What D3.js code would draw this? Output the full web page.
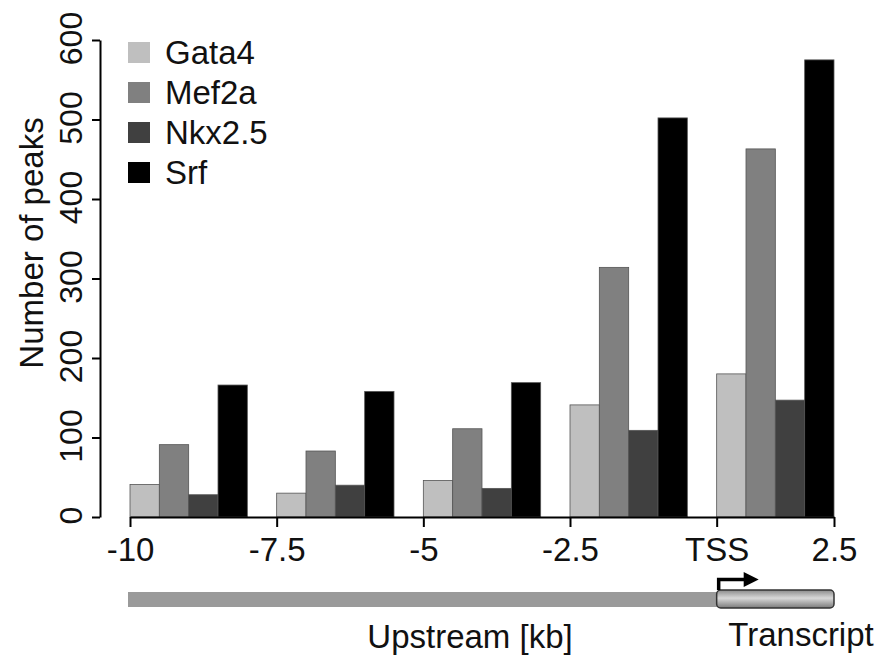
<!DOCTYPE html>
<html>
<head>
<meta charset="utf-8">
<script src="https://cdn.jsdelivr.net/npm/d3@7"></script>
<style>
  body { margin: 0; background: #fff; }
  svg { display: block; font-family: 'Liberation Sans', Arial, sans-serif; }
</style>
</head>
<body>
<div class="canvas"></div>
<script>
// bins upstream of the TSS (kb), tick labels along the bottom
const tickLabels = ['-10', '-7.5', '-5', '-2.5', 'TSS', '2.5'];
const seriesNames = ['Gata4', 'Mef2a', 'Nkx2.5', 'Srf'];
const seriesColors = ['#bfbfbf', '#808080', '#404040', '#000000'];

const gata4 = [41, 30, 46, 141, 180];
const mef2a = [91, 83, 111, 314, 463];
const nkx25 = [28, 40, 36, 109, 147];
const srf = [166, 158, 169, 502, 575];

const yTicks = [0, 100, 200, 300, 400, 500, 600];

const series = [gata4, mef2a, nkx25, srf];
const nGroups = gata4.length;
const groupSpan = seriesNames.length + 1; // 4 bars + 1 gap

const width = 877;
const height = 657;
const fontSize = '33px';

const svg = d3
  .select('.canvas')
  .append('svg')
  .attr('width', width)
  .attr('height', height);

// x in "bar units": each bar is one unit wide
const x = d3.scaleLinear().domain([0, nGroups * groupSpan - 1]).range([130, 834]);
const y = d3.scaleLinear().domain([0, 600]).range([517, 40]);

const tickPos = d3.range(nGroups).map(i => i * groupSpan).concat([nGroups * groupSpan - 1]);

// bars
const bars = [];
series.forEach((vals, s) => {
  vals.forEach((v, g) => bars.push({ s, g, v }));
});

svg
  .append('g')
  .selectAll('rect')
  .data(bars)
  .enter()
  .append('rect')
  .attr('x', d => x(d.g * groupSpan + d.s))
  .attr('width', x(1) - x(0))
  .attr('y', d => y(d.v))
  .attr('height', d => y(0) - y(d.v))
  .attr('fill', d => seriesColors[d.s])
  .attr('stroke', '#555')
  .attr('stroke-width', 0.8);

// y axis
const yAxisGroup = svg
  .append('g')
  .attr('transform', 'translate(100, 0)')
  .call(d3.axisLeft(y).tickValues(yTicks).tickSize(8).tickPadding(6).tickSizeOuter(0));

yAxisGroup.select('.domain').attr('stroke', '#000').attr('stroke-width', 2);
yAxisGroup.selectAll('.tick line').attr('stroke', '#000').attr('stroke-width', 2);
yAxisGroup
  .selectAll('.tick text')
  .attr('fill', '#111')
  .style('font-size', '32px')
  .attr('x', 0)
  .attr('dy', 0)
  .attr('text-anchor', 'middle')
  .attr('transform', 'translate(-18, -2) rotate(-90)');

// x axis
const xAxisGroup = svg
  .append('g')
  .attr('transform', `translate(0, ${y(0)})`)
  .call(
    d3
      .axisBottom(x)
      .tickValues(tickPos)
      .tickFormat((d, i) => tickLabels[i])
      .tickSize(10)
      .tickPadding(11)
      .tickSizeOuter(0)
  );

xAxisGroup.select('.domain').attr('stroke', '#000').attr('stroke-width', 2);
xAxisGroup.selectAll('.tick line').attr('stroke', '#000').attr('stroke-width', 2);
xAxisGroup.selectAll('.tick text').attr('fill', '#111').style('font-size', fontSize);

// y label
svg
  .append('text')
  .attr('transform', 'translate(43, 243) rotate(-90)')
  .attr('text-anchor', 'middle')
  .attr('fill', '#111')
  .style('font-size', fontSize)
  .text('Number of peaks');

// legend
const legend = svg
  .append('g')
  .selectAll('g')
  .data(seriesNames)
  .enter()
  .append('g')
  .attr('transform', (d, i) => `translate(128, ${42 + i * 40})`);

legend
  .append('rect')
  .attr('width', 22)
  .attr('height', 21)
  .attr('fill', (d, i) => seriesColors[i]);

legend
  .append('text')
  .attr('x', 37)
  .attr('y', 22)
  .attr('fill', '#111')
  .style('font-size', fontSize)
  .text(d => d);

// gene schematic under the axis
const defs = svg.append('defs');
const grad = defs
  .append('linearGradient')
  .attr('id', 'tube')
  .attr('x1', 0)
  .attr('y1', 0)
  .attr('x2', 0)
  .attr('y2', 1);
grad.append('stop').attr('offset', '0%').attr('stop-color', '#8a8a8a');
grad.append('stop').attr('offset', '45%').attr('stop-color', '#d8d8d8');
grad.append('stop').attr('offset', '100%').attr('stop-color', '#7a7a7a');

const tss = x(tickPos[nGroups - 1]);
const end = x(tickPos[nGroups]);

svg
  .append('rect')
  .attr('x', x(0) - 2)
  .attr('y', 592)
  .attr('width', tss - x(0) + 4)
  .attr('height', 15)
  .attr('fill', '#9a9a9a');

svg
  .append('rect')
  .attr('x', tss)
  .attr('y', 590)
  .attr('width', end - tss)
  .attr('height', 18)
  .attr('rx', 4)
  .attr('fill', 'url(#tube)')
  .attr('stroke', '#333')
  .attr('stroke-width', 1.5);

svg
  .append('path')
  .attr('d', `M${tss + 2},590 V579.5 H${tss + 30}`)
  .attr('fill', 'none')
  .attr('stroke', '#000')
  .attr('stroke-width', 3.5);

svg
  .append('path')
  .attr('d', `M${tss + 27},572 L${tss + 42},579.5 L${tss + 27},587 Z`)
  .attr('fill', '#000');

svg
  .append('text')
  .attr('x', 470)
  .attr('y', 648)
  .attr('text-anchor', 'middle')
  .attr('fill', '#111')
  .style('font-size', fontSize)
  .text('Upstream [kb]');

svg
  .append('text')
  .attr('x', 801)
  .attr('y', 646)
  .attr('text-anchor', 'middle')
  .attr('fill', '#111')
  .style('font-size', fontSize)
  .text('Transcript');
</script>
</body>
</html>
